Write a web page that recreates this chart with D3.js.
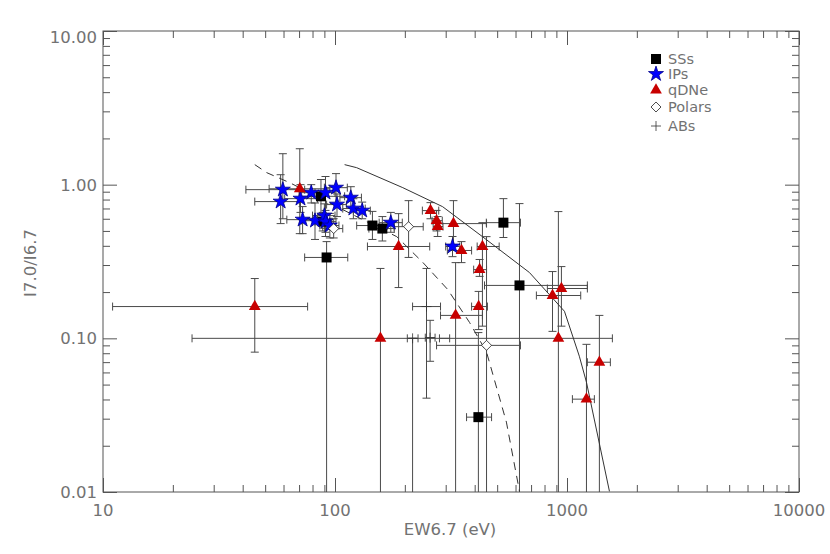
<!DOCTYPE html>
<html>
<head>
<meta charset="utf-8">
<script src="https://cdn.jsdelivr.net/npm/d3@7"></script>
<style>
  body { margin: 0; background: #fff; }
  text { font-family: "DejaVu Sans", sans-serif; fill: #727272; }
</style>
</head>
<body>
<script>
// each row: [EW6.7, ratio, xLo, xHi, yLo, yHi]
var ssData = [
  [87, 0.84, 70.5, 110, 0.64, 1.08],
  [88.5, 0.575, 80, 97, 0.50, 0.66],
  [92, 0.336, 74, 113.5, 0.005, 0.426],
  [145, 0.542, 124, 168, 0.44, 0.67],
  [160, 0.518, 140, 180, 0.43, 0.62],
  [532, 0.566, 449, 630, 0.453, 0.811],
  [624, 0.221, 441, 1224, 0.005, 0.753],
  [415, 0.0307, 369, 473, 0.005, 0.109]
];
var ipData = [
  [59.6, 0.928, 41.3, 74, 0.60, 1.59],
  [58.3, 0.776, 45.1, 70.5, 0.558, 1.161],
  [71, 0.811, 60.7, 84, 0.66, 1.0],
  [79, 0.887, 70, 90, 0.76, 1.0],
  [91, 0.887, 82, 100, 0.46, 1.13],
  [101, 0.956, 90, 113, 0.75, 1.18],
  [117, 0.823, 105, 130, 0.70, 0.97],
  [102, 0.742, 92, 112, 0.62, 0.87],
  [120, 0.699, 108, 135, 0.60, 0.81],
  [131, 0.678, 120, 142, 0.60, 0.77],
  [72.5, 0.592, 62, 84, 0.48, 0.72],
  [82, 0.583, 72, 92, 0.44, 0.76],
  [90, 0.629, 80, 100, 0.52, 0.75],
  [91, 0.575, 82, 101, 0.49, 0.68],
  [95, 0.542, 86, 104, 0.45, 0.65],
  [174, 0.566, 155, 195, 0.49, 0.66],
  [321, 0.396, 300, 345, 0.34, 0.46]
];
var qdnData = [
  [70.5, 0.94, 52, 95, 0.48, 1.713],
  [45.1, 0.161, 11.0, 76.2, 0.0813, 0.245],
  [157, 0.10, 24.2, 312, 0.005, 0.285],
  [188, 0.396, 138, 256, 0.214, 0.648],
  [258, 0.678, 238, 280, 0.60, 0.764],
  [274, 0.583, 262, 290, 0.50, 0.68],
  [277, 0.534, 265, 292, 0.46, 0.62],
  [324, 0.558, 274, 450, 0.396, 0.787],
  [351, 0.373, 305, 388, 0.311, 0.426],
  [432, 0.396, 410, 510, 0.12, 0.566],
  [420, 0.28, 396, 450, 0.253, 0.326],
  [416, 0.161, 388, 454, 0.114, 0.202],
  [331, 0.141, 285, 432, 0.005, 0.311],
  [866, 0.19, 738, 1146, 0.111, 0.272],
  [946, 0.211, 823, 1224, 0.12, 0.293],
  [918, 0.10, 282, 1569, 0.005, 0.668],
  [1379, 0.0699, 1224, 1538, 0.005, 0.141],
  [1213, 0.0402, 1055, 1312, 0.005, 0.0914]
];
var polarData = [
  [98.7, 0.518, 90, 108, 0.45, 0.60],
  [207.6, 0.533, 180, 240, 0.336, 0.787],
  [450, 0.090, 274, 630, 0.005, 0.459]
];
var abData = [
  [248, 0.161, 216, 285, 0.0408, 0.285],
  [257, 0.101, 245, 270, 0.0709, 0.131],
  [216, 0.10, 205, 228, 0.005, 0.10]
];

// model curves
var solidX = [110, 124, 196, 291, 432, 689, 975, 1130, 1213, 1524];
var solidY = [1.35, 1.29, 0.956, 0.719, 0.459, 0.268, 0.150, 0.0765, 0.0518, 0.0101];
var dashX = [45.1, 50.8, 63.8, 131.5, 184.5, 239, 306, 380, 450, 548, 624];
var dashY = [1.35, 1.197, 1.03, 0.592, 0.459, 0.312, 0.208, 0.127, 0.0813, 0.0285, 0.0101];

var xTicks = [10, 100, 1000, 10000];
var yTicks = [0.01, 0.1, 1, 10];
var legendNames = ['SSs', 'IPs', 'qDNe', 'Polars', 'ABs'];

var width = 830, height = 554;
// plot box edges (avoid the global "top")
var pLeft = 103, pRight = 799, pTop = 31, pBottom = 492;

var svg = d3.select('body').append('svg')
  .attr('width', width)
  .attr('height', height);

var x = d3.scaleLog().domain([10, 10000]).range([pLeft, pRight]);
var y = d3.scaleLog().domain([0.01, 10]).range([pBottom, pTop]);

// minor ticks 2..9 in each decade
var minorX = [], minorY = [];
[10, 100, 1000].forEach(function(d) { for (var k = 2; k < 10; k++) minorX.push(d * k); });
[0.01, 0.1, 1].forEach(function(d) { for (var k = 2; k < 10; k++) minorY.push(d * k); });

function drawAxis(axis, tr) {
  var g = svg.append('g').attr('transform', tr).call(axis);
  g.select('.domain').remove();
  g.selectAll('.tick line').attr('stroke', '#555');
  g.selectAll('.tick text').remove();
}
drawAxis(d3.axisBottom(x).tickValues(xTicks).tickSize(-14), 'translate(0,' + pBottom + ')');
drawAxis(d3.axisBottom(x).tickValues(minorX).tickSize(-7), 'translate(0,' + pBottom + ')');
drawAxis(d3.axisTop(x).tickValues(xTicks).tickSize(-14), 'translate(0,' + pTop + ')');
drawAxis(d3.axisTop(x).tickValues(minorX).tickSize(-7), 'translate(0,' + pTop + ')');
drawAxis(d3.axisLeft(y).tickValues(yTicks).tickSize(-14), 'translate(' + pLeft + ',0)');
drawAxis(d3.axisLeft(y).tickValues(minorY).tickSize(-7), 'translate(' + pLeft + ',0)');
drawAxis(d3.axisRight(y).tickValues(yTicks).tickSize(-14), 'translate(' + pRight + ',0)');
drawAxis(d3.axisRight(y).tickValues(minorY).tickSize(-7), 'translate(' + pRight + ',0)');

svg.append('rect')
  .attr('x', pLeft).attr('y', pTop)
  .attr('width', pRight - pLeft).attr('height', pBottom - pTop)
  .attr('fill', 'none').attr('stroke', '#555');

// tick labels
svg.selectAll('.xlab').data(xTicks).enter().append('text')
  .attr('x', function(d) { return x(d); })
  .attr('y', 516)
  .attr('text-anchor', 'middle')
  .style('font-size', '16.5px')
  .text(function(d) { return d3.format('d')(d); });
svg.selectAll('.ylab').data(yTicks).enter().append('text')
  .attr('x', 97)
  .attr('y', function(d) { return Math.max(y(d), 37) + 6; })
  .attr('text-anchor', 'end')
  .style('font-size', '16.5px')
  .text(function(d) { return d3.format('.2f')(d); });

svg.append('text')
  .attr('x', 450).attr('y', 535)
  .attr('text-anchor', 'middle')
  .style('font-size', '16.5px')
  .text('EW6.7 (eV)');
svg.append('text')
  .attr('transform', 'translate(36,263) rotate(-90)')
  .attr('text-anchor', 'middle')
  .style('font-size', '16.5px')
  .text('I7.0/I6.7');

// clip to plot area
svg.append('clipPath').attr('id', 'plotclip')
  .append('rect')
  .attr('x', pLeft).attr('y', pTop)
  .attr('width', pRight - pLeft).attr('height', pBottom - pTop);
var plot = svg.append('g').attr('clip-path', 'url(#plotclip)');

var allData = [ssData, ipData, qdnData, polarData, abData];

// error bars
var cap = 4;
allData.forEach(function(data) {
  var g = plot.append('g').attr('stroke', '#4a4a4a').attr('stroke-width', 1).attr('fill', 'none');
  data.forEach(function(d) {
    var px = x(d[0]), py = y(d[1]);
    var x0 = x(d[2]), x1 = x(d[3]), y0 = y(d[4]), y1 = y(d[5]);
    g.append('path').attr('d',
      'M' + x0 + ',' + py + 'H' + x1 +
      'M' + x0 + ',' + (py - cap) + 'V' + (py + cap) +
      'M' + x1 + ',' + (py - cap) + 'V' + (py + cap) +
      'M' + px + ',' + y0 + 'V' + y1 +
      'M' + (px - cap) + ',' + y0 + 'H' + (px + cap) +
      'M' + (px - cap) + ',' + y1 + 'H' + (px + cap));
  });
});

// model curves
var line = d3.line().x(function(d) { return x(d[0]); }).y(function(d) { return y(d[1]); });
plot.append('path')
  .datum(d3.zip(solidX, solidY))
  .attr('d', line)
  .attr('fill', 'none').attr('stroke', '#333').attr('stroke-width', 1);
plot.append('path')
  .datum(d3.zip(dashX, dashY))
  .attr('d', line)
  .attr('fill', 'none').attr('stroke', '#333').attr('stroke-width', 1)
  .attr('stroke-dasharray', '8,6');

// marker styles in legend order
var styles = [
  { path: d3.symbol(d3.symbolSquare, 100)(), fill: '#000', stroke: 'none' },
  { path: d3.symbol(d3.symbolStar, 70)(), fill: '#0000ff', stroke: '#00008b' },
  { path: d3.symbol(d3.symbolTriangle, 60)(), fill: '#c80000', stroke: 'none' },
  { path: 'M0,-5L5,0L0,5L-5,0Z', fill: '#fff', stroke: '#222' },
  { path: 'M-5,0H5M0,-5V5', fill: 'none', stroke: '#333' }
];

allData.forEach(function(data, i) {
  var s = styles[i];
  plot.append('g').selectAll('path').data(data).enter().append('path')
    .attr('d', s.path)
    .attr('transform', function(d) { return 'translate(' + x(d[0]) + ',' + y(d[1]) + ')'; })
    .attr('fill', s.fill)
    .attr('stroke', s.stroke)
    .attr('stroke-width', 0.8);
});

// legend
var legendY = [59, 74, 90, 107, 126];
var legend = svg.append('g');
legendNames.forEach(function(name, i) {
  var s = styles[i];
  legend.append('path')
    .attr('d', s.path)
    .attr('transform', 'translate(656,' + legendY[i] + ')')
    .attr('fill', s.fill).attr('stroke', s.stroke).attr('stroke-width', 0.8);
  legend.append('text')
    .attr('x', 668).attr('y', legendY[i] + 5)
    .style('font-size', '14.5px')
    .text(name);
});
</script>
</body>
</html>
